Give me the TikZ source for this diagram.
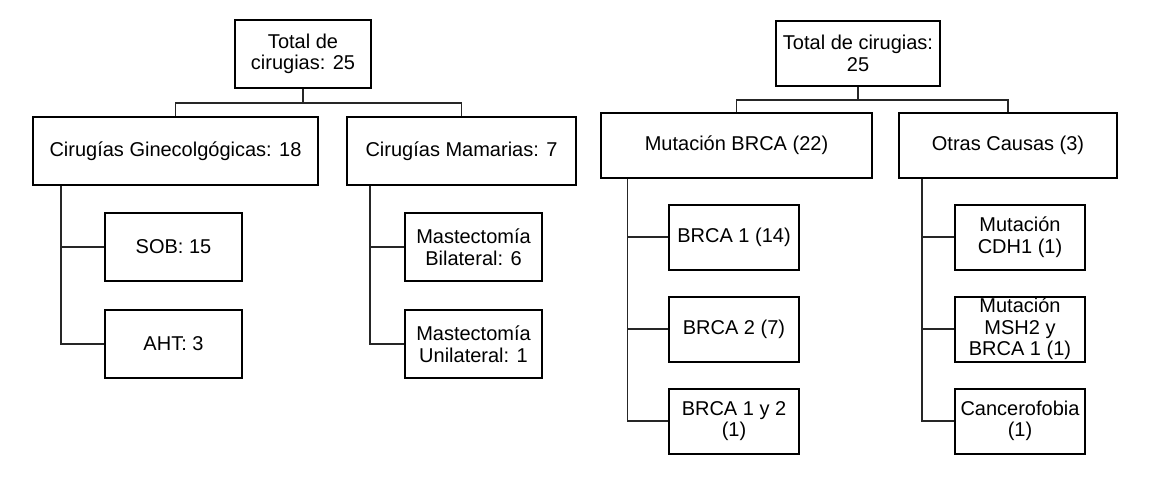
\documentclass[tikz,border=0pt]{standalone}
\usepackage{fontspec}
\setmainfont{Liberation Sans}

\begin{document}
\begin{tikzpicture}[x=0.5pt, y=-0.5pt,
    caja/.style={draw, line width=1pt, align=center, inner sep=0pt,
        font=\fontsize{10}{10.8}\selectfont},
    rama/.style={line width=0.9pt, black!85}]
    \useasboundingbox (0,0) rectangle (1149,479);
    \node[caja, minimum width=68pt, minimum height=34pt] (totA) at (303,54) {Total de\\cirugias: 25};
    \node[caja, minimum width=142.5pt, minimum height=34pt] (gin) at (175.5,151) {Cirugías Ginecolgógicas: 18};
    \node[caja, minimum width=114.5pt, minimum height=34pt] (mam) at (461.5,151) {Cirugías Mamarias: 7};
    \node[caja, minimum width=68.5pt, minimum height=34pt] (sob) at (173.5,247) {SOB: 15};
    \node[caja, minimum width=68.5pt, minimum height=34pt] (aht) at (173.5,344) {AHT: 3};
    \node[caja, minimum width=68.5pt, minimum height=34pt] (bil) at (473.5,247) {Mastectomía\\Bilateral: 6};
    \node[caja, minimum width=68.5pt, minimum height=34pt] (uni) at (473.5,344) {Mastectomía\\Unilateral: 1};
    \draw[rama] (totA.south) -- ++(0,14) -| (gin.north);
    \draw[rama] (totA.south) -- ++(0,14) -| (mam.north);
    \draw[rama] (gin.south west) ++(29,0) |- (sob.west);
    \draw[rama] (gin.south west) ++(29,0) |- (aht.west);
    \draw[rama] (mam.south west) ++(24,0) |- (bil.west);
    \draw[rama] (mam.south west) ++(24,0) |- (uni.west);

    \node[caja, minimum width=82pt, minimum height=32.5pt] (totB) at (858,53.5) {Total de cirugias:\\25};
    \node[caja, minimum width=135.5pt, minimum height=32.5pt] (brca) at (736.5,145.5) {Mutación BRCA (22)};
    \node[caja, minimum width=109pt, minimum height=32.5pt] (otr) at (1008,145.5) {Otras Causas (3)};
    \node[caja, minimum width=65pt, minimum height=32.5pt] (bA) at (734,237) {BRCA 1 (14)};
    \node[caja, minimum width=65pt, minimum height=32.5pt] (bB) at (734,329) {BRCA 2 (7)};
    \node[caja, minimum width=65pt, minimum height=32.5pt] (bAB) at (734,421) {BRCA 1 y 2\\(1)};
    \node[caja, minimum width=65pt, minimum height=32.5pt] (cdh) at (1020,237) {Mutación\\CDH1 (1)};
    \node[caja, minimum width=65pt, minimum height=32.5pt] (msh) at (1020,329) {Mutación\\MSH2 y\\BRCA 1 (1)};
    \node[caja, minimum width=65pt, minimum height=32.5pt] (canc) at (1020,421) {Cancerofobia\\(1)};
    \draw[rama] (totB.south) -- ++(0,13) -| (brca.north);
    \draw[rama] (totB.south) -- ++(0,13) -| (otr.north);
    \draw[rama] (brca.south west) ++(27.5,0) |- (bA.west);
    \draw[rama] (brca.south west) ++(27.5,0) |- (bB.west);
    \draw[rama] (brca.south west) ++(27.5,0) |- (bAB.west);
    \draw[rama] (otr.south west) ++(24,0) |- (cdh.west);
    \draw[rama] (otr.south west) ++(24,0) |- (msh.west);
    \draw[rama] (otr.south west) ++(24,0) |- (canc.west);
\end{tikzpicture}
\end{document}
